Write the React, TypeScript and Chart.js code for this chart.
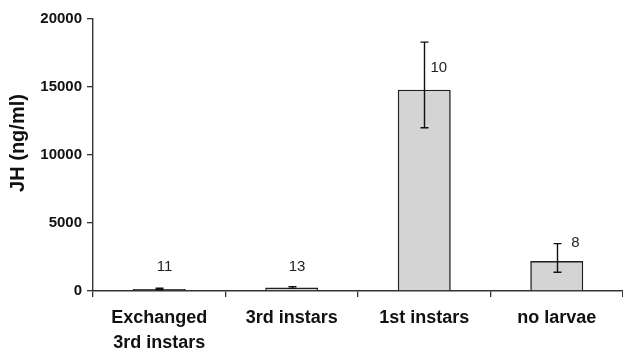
import React, { useEffect, useRef } from 'react';
import { Chart, registerables } from 'chart.js';

Chart.register(...registerables);

const categories: (string | string[])[] = [['Exchanged', '3rd instars'], '3rd instars', '1st instars', 'no larvae'];
const meanJH = [150, 250, 14800, 2200];
const errLow = [100, 190, 12000, 1380];
const errHigh = [200, 320, 18300, 3480];
const sampleSizes = ['11', '13', '10', '8'];
const sampleLabelValue = [1750, 1750, 16400, 3550];
const yMin = 0;
const yMax = 20000;
const yStep = 5000;
const yTitle = 'JH (ng/ml)';

const FONT = '"Liberation Sans", Arial, sans-serif';
const labelOffsetFrac = [0.04, 0.04, 0.11, 0.14];

const overlayPlugin = {
  id: 'overlay',
  afterDatasetsDraw(chart: any) {
    const { ctx, scales } = chart;
    const y = scales.y;
    const x = scales.x;
    const meta = chart.getDatasetMeta(0);
    const catW = x.width / categories.length;
    ctx.save();
    ctx.strokeStyle = '#111';
    ctx.lineWidth = 1.4;
    meta.data.forEach((bar: any, i: number) => {
      const cx = Math.round(bar.x) + 0.5;
      const yl = y.getPixelForValue(errLow[i]);
      const yh = y.getPixelForValue(errHigh[i]);
      ctx.beginPath();
      ctx.moveTo(cx, yl);
      ctx.lineTo(cx, yh);
      ctx.moveTo(cx - 4, yl);
      ctx.lineTo(cx + 4, yl);
      ctx.moveTo(cx - 4, yh);
      ctx.lineTo(cx + 4, yh);
      ctx.stroke();
    });
    ctx.fillStyle = '#222';
    ctx.font = `15px ${FONT}`;
    ctx.textAlign = 'center';
    ctx.textBaseline = 'middle';
    meta.data.forEach((bar: any, i: number) => {
      ctx.fillText(sampleSizes[i], bar.x + labelOffsetFrac[i] * catW, y.getPixelForValue(sampleLabelValue[i]));
    });
    // y-axis title
    ctx.translate(18, 143);
    ctx.rotate(-Math.PI / 2);
    ctx.font = `bold 20px ${FONT}`;
    ctx.fillStyle = '#111';
    ctx.fillText(yTitle, 0, 0);
    ctx.restore();
  },
};

export default function App() {
  const ref = useRef<HTMLCanvasElement | null>(null);
  useEffect(() => {
    document.body.style.margin = '0';
    if (!ref.current) return;
    const chart = new Chart(ref.current, {
      type: 'bar',
      data: {
        labels: categories,
        datasets: [
          {
            data: meanJH,
            backgroundColor: ['#333', '#d4d4d4', '#d4d4d4', '#d4d4d4'],
            borderColor: '#222',
            borderWidth: 1.6,
            barPercentage: 0.4,
            categoryPercentage: 1,
          },
        ],
      },
      options: {
        animation: false,
        responsive: false,
        layout: { padding: { top: 19, right: 0, left: 0, bottom: 0 } },
        plugins: { legend: { display: false }, tooltip: { enabled: false } },
        scales: {
          x: {
            grid: { offset: true, drawOnChartArea: false, drawTicks: true, tickLength: 6, color: '#333', lineWidth: 1.3 },
            border: { color: '#333', width: 1.4 },
            ticks: {
              font: { family: FONT, size: 18, weight: 'bold', lineHeight: 1.4 },
              color: '#111',
              padding: 8,
              maxRotation: 0,
              autoSkip: false,
            },
            afterFit: (s: any) => {
              s.height = 62;
            },
          },
          y: {
            min: yMin,
            max: yMax,
            grid: { drawOnChartArea: false, drawTicks: true, tickLength: 6, color: '#333', lineWidth: 1.3 },
            border: { color: '#333', width: 1.4 },
            ticks: {
              stepSize: yStep,
              font: { family: FONT, size: 15, weight: 'bold' },
              color: '#111',
              padding: 5,
              callback: (v: any) => String(v),
            },
            afterFit: (s: any) => {
              s.width = 93;
            },
          },
        },
      },
      plugins: [overlayPlugin],
    });
    return () => chart.destroy();
  }, []);
  return (
    <div style={{ width: 623, height: 353 }}>
      <canvas ref={ref} width={623} height={353} />
    </div>
  );
}
